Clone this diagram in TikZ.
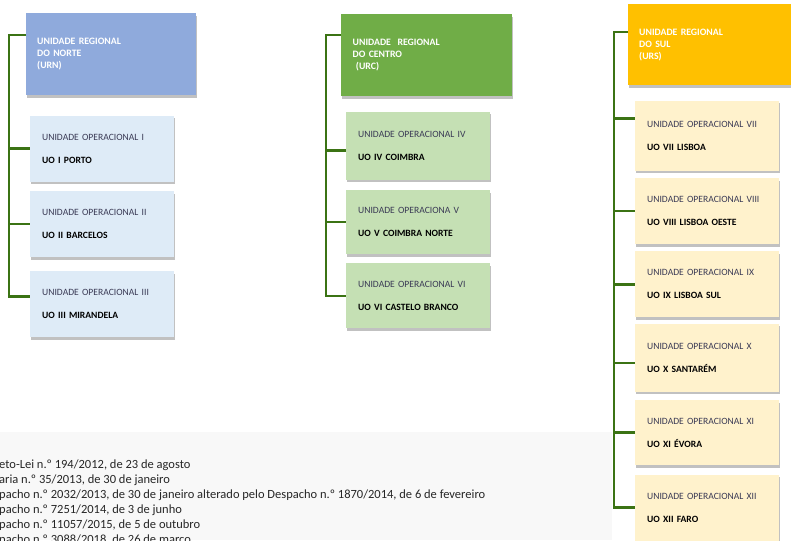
\documentclass[tikz,border=0pt]{standalone}
\usepackage{fontspec}
\setmainfont{Carlito}
\usetikzlibrary{positioning, shadows}

\definecolor{urnblue}{HTML}{8FAADC}
\definecolor{urcgreen}{HTML}{70AD47}
\definecolor{ursgold}{HTML}{FFC000}
\definecolor{uoblue}{HTML}{DEEBF7}
\definecolor{uogreen}{HTML}{C5E0B4}
\definecolor{uogold}{HTML}{FFF2CC}
\definecolor{linkgreen}{HTML}{3B7314}
\definecolor{uotext}{HTML}{3A3A55}
\definecolor{notebg}{HTML}{F8F8F8}

\begin{document}
\begin{tikzpicture}[x=1pt, y=-1pt]
    \tikzset{region/.style={rectangle, anchor=north west, minimum width=170pt, minimum height=82pt, text width=148pt, inner xsep=11pt, align=left, text=white, font=\fontsize{9.8}{12}\selectfont\bfseries, drop shadow={shadow xshift=1pt, shadow yshift=-2.5pt, opacity=0.35, fill=black!70}}}
    \tikzset{unit/.style={rectangle, minimum width=144pt, minimum height=66pt, text width=120pt, inner xsep=12pt, align=left, text=uotext, font=\fontsize{9.6}{10}\selectfont, drop shadow={shadow xshift=1pt, shadow yshift=-2.5pt, opacity=0.35, fill=black!70}}}
    \tikzset{link/.style={draw=linkgreen, line width=2.6pt}}
    \tikzset{notes/.style={anchor=north west, inner sep=0pt, align=left, text=black!85, font=\fontsize{12.5}{15}\selectfont}}
    \useasboundingbox (0,0) rectangle (791,540);

    % Legislation background
    \fill[notebg] (0,432) rectangle (612,540);
    \begin{scope}
    \clip (0,0) rectangle (791,540);
    \node[notes] (refs) at (-1,459.5) {eto-Lei n.º 194/2012, de 23 de agosto\\
        aria n.º 35/2013, de 30 de janeiro\\
        pacho n.º 2032/2013, de 30 de janeiro alterado pelo Despacho n.º 1870/2014, de 6 de fevereiro\\
        pacho n.º 7251/2014, de 3 de junho\\
        pacho n.º 11057/2015, de 5 de outubro\\
        pacho n.º 3088/2018, de 26 de março};
    \end{scope}

    % Norte
    \node[region, fill=urnblue] (urn) at (26,13) {UNIDADE REGIONAL\\DO NORTE\\(URN)};
    \node[unit, fill=uoblue, below right=20pt and 4pt of urn.south west] (uo1) {UNIDADE OPERACIONAL I\\[13pt]\textbf{\color{black}UO I PORTO}};
    \node[unit, fill=uoblue, below=9pt of uo1] (uo2) {UNIDADE OPERACIONAL II\\[13pt]\textbf{\color{black}UO II BARCELOS}};
    \node[unit, fill=uoblue, below=14pt of uo2] (uo3) {UNIDADE OPERACIONAL III\\[13pt]\textbf{\color{black}UO III MIRANDELA}};

    % Centro
    \node[region, fill=urcgreen, minimum width=171pt] (urc) at (341,14) {UNIDADE~ REGIONAL\\DO CENTRO\\~(URC)};
    \node[unit, fill=uogreen, minimum height=68pt, below right=15pt and 5pt of urc.south west] (uo4) {UNIDADE OPERACIONAL IV\\[13pt]\textbf{\color{black}UO IV COIMBRA}};
    \node[unit, fill=uogreen, minimum height=64pt, below=10pt of uo4] (uo5) {UNIDADE OPERACIONA V\\[13pt]\textbf{\color{black}UO V COIMBRA NORTE}};
    \node[unit, fill=uogreen, minimum height=65pt, below=9pt of uo5] (uo6) {UNIDADE OPERACIONAL VI\\[13pt]\textbf{\color{black}UO VI CASTELO BRANCO}};

    % Sul
    \node[region, fill=ursgold, minimum width=180pt, minimum height=81pt, text width=158pt] (urs) at (628,4) {UNIDADE REGIONAL\\DO SUL\\(URS)};
    \node[unit, fill=uogold, minimum width=143pt, minimum height=70pt, below right=15pt and 7pt of urs.south west] (uo7) {UNIDADE OPERACIONAL VII\\[13pt]\textbf{\color{black}UO VII LISBOA}};
    \node[unit, fill=uogold, minimum width=143pt, below=7pt of uo7] (uo8) {UNIDADE OPERACIONAL VIII\\[13pt]\textbf{\color{black}UO VIII LISBOA OESTE}};
    \node[unit, fill=uogold, minimum width=143pt, below=7pt of uo8] (uo9) {UNIDADE OPERACIONAL IX\\[13pt]\textbf{\color{black}UO IX LISBOA SUL}};
    \node[unit, fill=uogold, minimum width=143pt, minimum height=68pt, below=6pt of uo9] (uo10) {UNIDADE OPERACIONAL X\\[13pt]\textbf{\color{black}UO X SANTARÉM}};
    \node[unit, fill=uogold, minimum width=143pt, minimum height=65pt, below=8pt of uo10] (uo11) {UNIDADE OPERACIONAL XI\\[13pt]\textbf{\color{black}UO XI ÉVORA}};
    \node[unit, fill=uogold, minimum width=143pt, below=9pt of uo11] (uo12) {UNIDADE OPERACIONAL XII\\[13pt]\textbf{\color{black}UO XII FARO}};

    % Brackets
    \coordinate (nspine) at (9,0);
    \coordinate (cspine) at (326,0);
    \coordinate (sspine) at (614,0);
    \coordinate (urnin) at ([yshift=-22pt]urn.north west);
    \coordinate (urcin) at ([yshift=-21pt]urc.north west);
    \coordinate (ursin) at ([yshift=-28pt]urs.north west);
    \coordinate (uo3in) at ([yshift=8pt]uo3.west);
    \coordinate (uo4in) at ([yshift=-5pt]uo4.west);
    \coordinate (uo7in) at ([yshift=17pt]uo7.west);
    \coordinate (uo10in) at ([yshift=-5pt]uo10.west);

    \draw[link] (urnin) -- (urnin -| nspine) -- (nspine |- uo3in) -- (uo3in);
    \draw[link] (nspine |- uo1.west) -- (uo1.west);
    \draw[link] (nspine |- uo2.west) -- (uo2.west);

    \draw[link] (urcin) -- (urcin -| cspine) -- (cspine |- uo6.west) -- (uo6.west);
    \draw[link] (cspine |- uo4in) -- (uo4in);
    \draw[link] (cspine |- uo5.west) -- (uo5.west);

    \draw[link] (ursin) -- (ursin -| sspine) -- (sspine |- uo12.west) -- (uo12.west);
    \draw[link] (sspine |- uo7in) -- (uo7in);
    \draw[link] (sspine |- uo8.west) -- (uo8.west);
    \draw[link] (sspine |- uo9.west) -- (uo9.west);
    \draw[link] (sspine |- uo10in) -- (uo10in);
    \draw[link] (sspine |- uo11.west) -- (uo11.west);
\end{tikzpicture}
\end{document}
